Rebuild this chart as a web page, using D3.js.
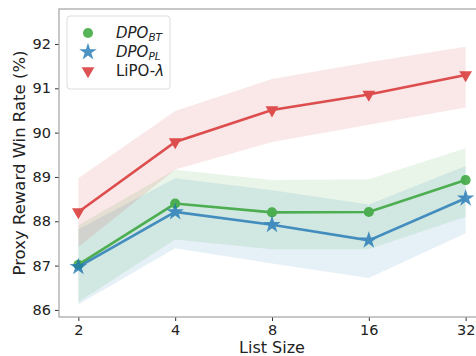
<!DOCTYPE html>
<html>
<head>
<meta charset="utf-8">
<script src="https://cdn.jsdelivr.net/npm/d3@7"></script>
<style>
  body { margin: 0; background: #fff; }
  svg { display: block; font-family: "DejaVu Sans", sans-serif; }
</style>
</head>
<body>
<div id="chart"></div>
<script>
const listSizes = [2, 4, 8, 16, 32];
const yTicks = [86, 87, 88, 89, 90, 91, 92];

const btMean = [87.02, 88.40, 88.20, 88.21, 88.93];
const btLow = [86.18, 87.59, 87.37, 87.37, 88.10];
const btHigh = [87.91, 89.16, 88.93, 88.95, 89.65];

const plMean = [86.97, 88.21, 87.92, 87.57, 88.52];
const plLow = [86.12, 87.39, 87.05, 86.72, 87.73];
const plHigh = [87.82, 88.97, 88.70, 88.38, 89.25];

const lipoMean = [88.21, 89.79, 90.51, 90.86, 91.30];
const lipoLow = [87.42, 89.17, 89.79, 90.18, 90.57];
const lipoHigh = [88.97, 90.49, 91.21, 91.59, 91.94];

const width = 476, height = 356;
const plotLeft = 59, plotTop = 9, plotRight = 485, plotBottom = 317;

const svg = d3.select("#chart").append("svg")
    .attr("width", width)
    .attr("height", height);

const x = d3.scaleLog().base(2)
    .domain([Math.pow(2, 0.8), Math.pow(2, 5.2)])
    .range([plotLeft, plotRight]);
const y = d3.scaleLinear()
    .domain([85.84, 92.79])
    .range([plotBottom, plotTop]);

const series = [
  { name: "bt", mean: btMean, low: btLow, high: btHigh, color: "#2ca02c", symbol: d3.symbolCircle, size: 80, rot: 0 },
  { name: "pl", mean: plMean, low: plLow, high: plHigh, color: "#1f77b4", symbol: d3.symbolStar, size: 95, rot: 0 },
  { name: "lipo", mean: lipoMean, low: lipoLow, high: lipoHigh, color: "#d62728", symbol: d3.symbolTriangle, size: 70, rot: 180 }
];

// bands
const area = d3.area()
    .x((d) => x(d.k))
    .y0((d) => y(d.lo))
    .y1((d) => y(d.hi));

series.forEach((s) => {
  const pts = listSizes.map((k, i) => ({ k: k, lo: s.low[i], hi: s.high[i] }));
  svg.append("path")
      .attr("d", area(pts))
      .attr("fill", s.color)
      .attr("fill-opacity", 0.11);
});

// lines + markers
const line = d3.line()
    .x((d) => x(d.k))
    .y((d) => y(d.v));

series.forEach((s) => {
  const pts = listSizes.map((k, i) => ({ k: k, v: s.mean[i] }));
  const g = svg.append("g").attr("opacity", 0.8);
  g.append("path")
      .attr("d", line(pts))
      .attr("fill", "none")
      .attr("stroke", s.color)
      .attr("stroke-width", 2.6);
  g.selectAll("path.m")
      .data(pts)
      .enter()
      .append("path")
      .attr("class", "m")
      .attr("d", d3.symbol().type(s.symbol).size(s.size))
      .attr("transform", (d) => `translate(${x(d.k)},${y(d.v)}) rotate(${s.rot})`)
      .attr("fill", s.color);
});

// axes
const xAxis = svg.append("g")
    .attr("transform", `translate(0,${plotBottom})`)
    .call(d3.axisBottom(x).tickValues(listSizes).tickFormat(d3.format("d")).tickSize(4).tickPadding(4));
const yAxis = svg.append("g")
    .attr("transform", `translate(${plotLeft},0)`)
    .call(d3.axisLeft(y).tickValues(yTicks).tickFormat(d3.format("d")).tickSize(4).tickPadding(4));

[xAxis, yAxis].forEach((a) => {
  a.select(".domain").remove();
  a.selectAll(".tick line").attr("stroke", "#333").attr("stroke-width", 1);
  a.selectAll(".tick text")
      .attr("fill", "#222")
      .style("font-size", "14.5px")
      .style("font-family", "DejaVu Sans");
});

// frame
svg.append("rect")
    .attr("x", plotLeft)
    .attr("y", plotTop)
    .attr("width", plotRight - plotLeft)
    .attr("height", plotBottom - plotTop)
    .attr("fill", "none")
    .attr("stroke", "#aaa")
    .attr("stroke-width", 1.3);

// labels
svg.append("text")
    .attr("x", 272)
    .attr("y", 352.5)
    .attr("text-anchor", "middle")
    .style("font-size", "16px")
    .attr("fill", "#222")
    .text("List Size");

svg.append("text")
    .attr("transform", `translate(25,${(plotTop + plotBottom) / 2}) rotate(-90)`)
    .attr("text-anchor", "middle")
    .style("font-size", "16.5px")
    .attr("fill", "#222")
    .text("Proxy Reward Win Rate (%)");

// legend
const legend = svg.append("g").attr("transform", "translate(67,16)");
legend.append("rect")
    .attr("width", 103)
    .attr("height", 73)
    .attr("rx", 3)
    .attr("fill", "#fff")
    .attr("fill-opacity", 0.8)
    .attr("stroke", "#ddd");

series.forEach((s, i) => {
  const row = legend.append("g").attr("transform", `translate(0,${17 + i * 19})`);
  row.append("path")
      .attr("d", d3.symbol().type(s.symbol).size(s.size))
      .attr("transform", `translate(21,0) rotate(${s.rot})`)
      .attr("fill", s.color)
      .attr("opacity", 0.8);
  const t = row.append("text")
      .attr("x", 49)
      .attr("y", 5)
      .style("font-size", "15px")
      .attr("fill", "#222");
  if (s.name === "lipo") {
    t.append("tspan").text("LiPO-");
    t.append("tspan").style("font-style", "italic").text("λ");
  } else {
    t.append("tspan").style("font-style", "italic").text("DPO");
    t.append("tspan")
        .style("font-style", "italic")
        .style("font-size", "10.5px")
        .attr("dy", 3)
        .text(s.name === "bt" ? "BT" : "PL");
  }
});
</script>
</body>
</html>
